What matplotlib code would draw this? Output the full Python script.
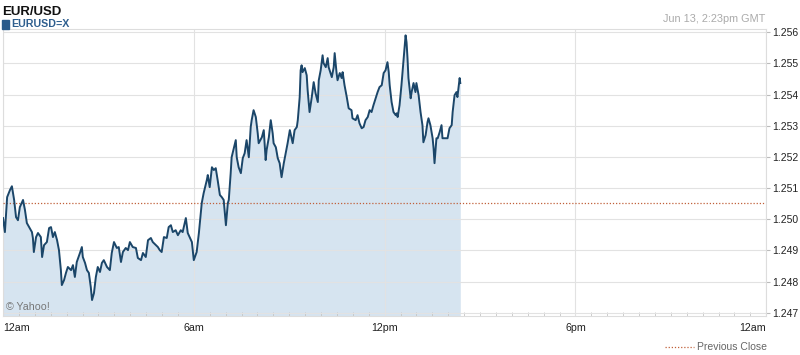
import numpy as np
import matplotlib.pyplot as plt
from matplotlib.patches import Rectangle

plt.rcParams['font.family'] = ['Liberation Sans', 'DejaVu Sans']

# EUR/USD intraday, hours since midnight GMT
hours = [0.00, 0.06, 0.13, 0.22, 0.28, 0.35, 0.41, 0.47, 0.53, 0.60, 0.63, 0.69, 0.75, 0.82,
         0.91, 0.94, 0.97, 1.04, 1.10, 1.19, 1.23, 1.29, 1.38, 1.45, 1.51, 1.57, 1.63, 1.70,
         1.76, 1.82, 1.85, 1.92, 1.98, 2.04, 2.14, 2.20, 2.26, 2.32, 2.42, 2.48, 2.51, 2.58,
         2.64, 2.70, 2.76, 2.80, 2.86, 2.92, 2.98, 3.05,
         3.11, 3.17, 3.27, 3.36, 3.42, 3.49, 3.58, 3.64, 3.71, 3.77, 3.86, 3.93, 3.99, 4.08,
         4.18, 4.24, 4.34, 4.40, 4.49, 4.56, 4.65, 4.71, 4.81, 4.87, 4.93, 4.99, 5.06, 5.15,
         5.21, 5.28, 5.34, 5.43, 5.50, 5.59, 5.65, 5.75, 5.81, 5.87, 5.94, 6.00,
         6.09, 6.16, 6.22, 6.25, 6.31, 6.41, 6.44, 6.50, 6.57, 6.63, 6.69, 6.75, 6.82, 6.88,
         6.94, 7.01, 7.07, 7.10, 7.16, 7.19, 7.26, 7.32, 7.35, 7.41, 7.48, 7.54, 7.60, 7.66,
         7.73, 7.79, 7.82, 7.88, 7.95, 8.01, 8.04, 8.14, 8.20, 8.26, 8.29, 8.36, 8.42, 8.48,
         8.51, 8.58, 8.64, 8.70, 8.76, 8.83, 8.89, 8.95,
         9.02, 9.11, 9.17, 9.24, 9.27, 9.33, 9.36, 9.39, 9.42, 9.49, 9.55, 9.58, 9.64, 9.71,
         9.77, 9.83, 9.90, 9.93, 9.99, 10.05, 10.08, 10.15, 10.21, 10.24, 10.30, 10.34, 10.40,
         10.43, 10.49, 10.52, 10.59, 10.65, 10.68, 10.74, 10.81, 10.87, 10.96, 10.99, 11.09,
         11.15, 11.21, 11.28, 11.34, 11.40, 11.47, 11.53, 11.59, 11.65,
         11.78, 11.84, 11.91, 11.97, 12.03, 12.09, 12.13, 12.16, 12.22, 12.28, 12.35, 12.38,
         12.41, 12.47, 12.53, 12.60, 12.66, 12.69, 12.72, 12.75, 12.82, 12.85, 12.91, 12.97,
         13.00, 13.07, 13.13, 13.19, 13.22, 13.29, 13.35, 13.38, 13.44, 13.51, 13.54, 13.57,
         13.63, 13.67, 13.73, 13.79, 13.82, 13.92, 13.98, 14.04, 14.11, 14.14, 14.20, 14.26,
         14.29, 14.36, 14.38]

price = [1.25004, 1.24959, 1.25071, 1.25094, 1.25106, 1.25062, 1.25007, 1.24997, 1.25039,
         1.25055, 1.25062, 1.25030, 1.24988, 1.24975, 1.24959, 1.24940, 1.24895, 1.24943,
         1.24956, 1.24943, 1.24879, 1.24917, 1.24927, 1.24972, 1.24975, 1.24943, 1.24959,
         1.24933, 1.24901, 1.24837, 1.24789, 1.24805, 1.24828, 1.24847, 1.24837, 1.24853,
         1.24815, 1.24863, 1.24892, 1.24911, 1.24879, 1.24860, 1.24837, 1.24828, 1.24783,
         1.24741, 1.24763, 1.24815, 1.24847, 1.24831,
         1.24860, 1.24869, 1.24847, 1.24837, 1.24892, 1.24927, 1.24908, 1.24911, 1.24863,
         1.24895, 1.24908, 1.24901, 1.24927, 1.24911, 1.24908, 1.24876, 1.24869, 1.24892,
         1.24879, 1.24933, 1.24940, 1.24927, 1.24917, 1.24911, 1.24901, 1.24895, 1.24943,
         1.24940, 1.24975, 1.24981, 1.24959, 1.24965, 1.24949, 1.24965, 1.24959, 1.25004,
         1.24956, 1.24943, 1.24927, 1.24869,
         1.24895, 1.24956, 1.25020, 1.25052, 1.25084, 1.25126, 1.25142, 1.25103, 1.25167,
         1.25158, 1.25164, 1.25126, 1.25078, 1.25071, 1.25062, 1.24981, 1.25052, 1.25062,
         1.25148, 1.25199, 1.25228, 1.25254, 1.25199, 1.25167, 1.25148, 1.25196, 1.25212,
         1.25254, 1.25199, 1.25296, 1.25318, 1.25350, 1.25328, 1.25276, 1.25244, 1.25263,
         1.25286, 1.25190, 1.25222, 1.25263, 1.25318, 1.25276, 1.25244, 1.25231, 1.25196,
         1.25180, 1.25135, 1.25180, 1.25212, 1.25244,
         1.25286, 1.25244, 1.25286, 1.25296, 1.25318, 1.25392, 1.25478, 1.25494, 1.25472,
         1.25485, 1.25462, 1.25414, 1.25344, 1.25392, 1.25440, 1.25404, 1.25376, 1.25446,
         1.25478, 1.25526, 1.25501, 1.25488, 1.25517, 1.25488, 1.25469, 1.25456, 1.25488,
         1.25533, 1.25469, 1.25446, 1.25469, 1.25453, 1.25472, 1.25430, 1.25392, 1.25356,
         1.25350, 1.25324, 1.25318, 1.25334, 1.25308, 1.25292, 1.25296, 1.25318, 1.25328,
         1.25350, 1.25344, 1.25366,
         1.25408, 1.25424, 1.25430, 1.25469, 1.25478, 1.25504, 1.25472, 1.25430, 1.25376,
         1.25344, 1.25334, 1.25340, 1.25328, 1.25366, 1.25430, 1.25517, 1.25590, 1.25568,
         1.25517, 1.25453, 1.25388, 1.25408, 1.25437, 1.25408, 1.25437, 1.25398, 1.25344,
         1.25302, 1.25247, 1.25270, 1.25312, 1.25324, 1.25302, 1.25260, 1.25228, 1.25180,
         1.25260, 1.25260, 1.25279, 1.25302, 1.25260, 1.25260, 1.25260, 1.25292, 1.25302,
         1.25344, 1.25398, 1.25408, 1.25392, 1.25453, 1.25437]

prev_close = 1.25052
yticks = [1.247, 1.248, 1.249, 1.250, 1.251, 1.252, 1.253, 1.254, 1.255, 1.256]
xticks = [0, 6, 12, 18, 24]
xlabels = ["12am", "6am", "12pm", "6pm", "12am"]

fig = plt.figure(figsize=(8, 3.55), dpi=100)
ax = fig.add_axes([0.00375, 0.110, 0.954, 0.808])

ax.fill_between(hours, price, 1.2460, color="#d6e4f0", lw=0, zorder=1)
ax.plot(hours, price, color="#1b4669", lw=1.4, zorder=3)
ax.axhline(prev_close, color="#c0603a", lw=0.9, ls=(0, (1, 1.5)), zorder=2.8)

ax.set_xlim(0, 24)
ax.set_ylim(1.24690, 1.2561)
ax.set_yticks(yticks)
ax.set_yticklabels(["%.3f" % v for v in yticks])
ax.yaxis.tick_right()
ax.set_xticks(xticks)
ax.set_xticklabels(xlabels)
ax.set_xticks(np.arange(0, 24.5, 0.5), minor=True)
ax.grid(True, color="#e2e2e2", lw=0.8)
for line in ax.get_xgridlines() + ax.get_ygridlines():
    line.set_zorder(1.5)
ax.tick_params(axis="y", length=3, color="#bbbbbb", labelsize=7.5, pad=1, labelcolor="#222222")
ax.tick_params(axis="x", which="major", length=0, labelsize=7.7, pad=5, labelcolor="#222222")
ax.tick_params(axis="x", which="minor", length=3, color="#c4c4c4", direction="in")
xl = ax.get_xticklabels()
xl[0].set_ha("left")
xl[-1].set_ha("right")
for s in ax.spines.values():
    s.set_color("#dddddd")
    s.set_linewidth(0.8)

fig.text(0.003, 0.982, "EUR/USD", fontsize=9.5, fontweight="bold", va="top", color="#111111")
fig.patches.append(Rectangle((0.003, 0.918), 0.008, 0.026, transform=fig.transFigure,
                             color="#2a5a8a", figure=fig))
fig.text(0.014, 0.946, "EURUSD=X", fontsize=7.7, fontweight="bold", va="top", color="#2e5e8e")
fig.text(0.957, 0.932, "Jun 13, 2:23pm GMT", fontsize=7.8, ha="right", va="bottom", color="#aaaaaa")
ax.text(0.004, 0.022, "© Yahoo!", transform=ax.transAxes, fontsize=7.7, color="#777777")

fig.lines.append(plt.Line2D([0.831, 0.868], [0.022, 0.022], transform=fig.transFigure,
                            color="#c0603a", lw=0.9, ls=(0, (1, 1.5))))
fig.text(0.871, 0.022, "Previous Close", fontsize=7.5, va="center", color="#666666")

fig.savefig("out.png", dpi=100)
